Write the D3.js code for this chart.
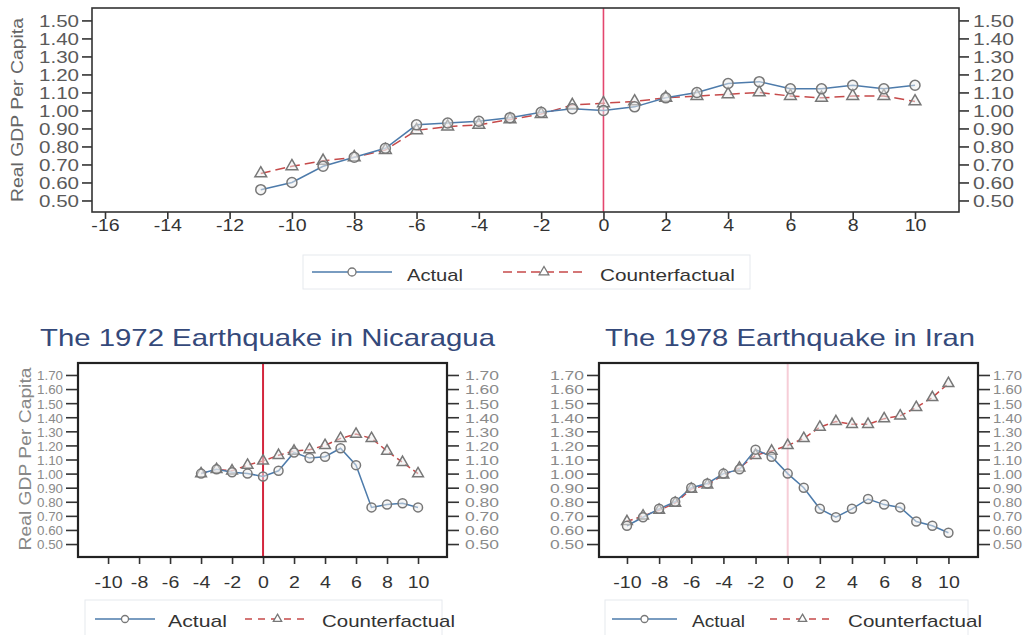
<!DOCTYPE html>
<html><head><meta charset="utf-8">
<script src="https://cdn.jsdelivr.net/npm/d3@7"></script>
<style>
body{margin:0;background:#fff;}
svg{display:block;font-family:"Liberation Sans",Arial,Helvetica,sans-serif;}
</style>
</head><body>
<svg id="c" width="1023" height="635"></svg>
<script>
// ---------- data ----------
const topYears = [-11,-10,-9,-8,-7,-6,-5,-4,-3,-2,-1,0,1,2,3,4,5,6,7,8,9,10];
const topActual = [0.56,0.60,0.69,0.74,0.79,0.92,0.93,0.94,0.96,0.99,1.01,1.00,1.02,1.07,1.10,1.15,1.16,1.12,1.12,1.14,1.12,1.14];
const topCounter = [0.65,0.69,0.72,0.74,0.78,0.89,0.91,0.92,0.95,0.98,1.03,1.04,1.05,1.07,1.08,1.09,1.10,1.08,1.07,1.08,1.08,1.05];

const nicYears = [-4,-3,-2,-1,0,1,2,3,4,5,6,7,8,9,10];
const nicActual = [1.00,1.03,1.01,1.00,0.98,1.02,1.15,1.11,1.12,1.18,1.06,0.76,0.78,0.79,0.76];
const nicCounter = [1.00,1.03,1.02,1.06,1.09,1.13,1.16,1.17,1.20,1.25,1.28,1.25,1.16,1.08,1.00];

const iranYears = [-10,-9,-8,-7,-6,-5,-4,-3,-2,-1,0,1,2,3,4,5,6,7,8,9,10];
const iranActual = [0.63,0.69,0.75,0.80,0.90,0.93,1.00,1.03,1.17,1.12,1.00,0.90,0.75,0.69,0.75,0.82,0.78,0.76,0.66,0.63,0.58];
const iranCounter = [0.66,0.70,0.74,0.79,0.89,0.92,0.99,1.04,1.13,1.16,1.20,1.25,1.33,1.37,1.35,1.35,1.39,1.41,1.47,1.54,1.64];

const topXTicks = [-16,-14,-12,-10,-8,-6,-4,-2,0,2,4,6,8,10];
const topYTicks = [0.5,0.6,0.7,0.8,0.9,1.0,1.1,1.2,1.3,1.4,1.5];
const botXTicks = [-10,-8,-6,-4,-2,0,2,4,6,8,10];
const botYTicks = [0.5,0.6,0.7,0.8,0.9,1.0,1.1,1.2,1.3,1.4,1.5,1.6,1.7];

const yTitle = "Real GDP Per Capita";
const titles = ["The 1972 Earthquake in Nicaragua", "The 1978 Earthquake in Iran"];
const legendLabels = ["Actual", "Counterfactual"];

// ---------- helpers ----------
const svg = d3.select("#c");
const BLUE = "#4d7bab", RED = "#c64a4a", MK = "#777";
const hyphenFmt = d => (d < 0 ? "-" + Math.abs(d) : String(d));

function stretch(sel, sx){
  sel.each(function(){
    const w = this.getComputedTextLength();
    d3.select(this).attr("textLength", w*sx).attr("lengthAdjust","spacingAndGlyphs");
  });
}
function fixLen(sel, len){
  sel.attr("textLength", len).attr("lengthAdjust","spacingAndGlyphs");
}

function panel(o){
  const g = svg.append("g");
  const x = d3.scaleLinear().domain(o.xDom).range([o.x0, o.x1]);
  const y = d3.scaleLinear().domain(o.yDom).range([o.y1, o.y0]);

  // x axis
  const xa = g.append("g").attr("transform",`translate(0,${o.y1})`)
    .call(d3.axisBottom(x).tickValues(o.xTicks).tickSize(o.xTickLen).tickFormat(hyphenFmt));
  xa.select(".domain").remove();
  xa.selectAll(".tick line").attr("stroke","#333").attr("stroke-width",1.6);
  xa.selectAll("text").attr("y", o.xLabBase - o.y1).attr("dy",0)
    .attr("font-size",17).attr("fill","#333").call(stretch,1.15);

  // y axes
  [["L", d3.axisLeft], ["R", d3.axisRight]].forEach(([side, ax])=>{
    const pos = side==="L" ? o.x0 : o.x1;
    const ya = g.append("g").attr("transform",`translate(${pos},0)`)
      .call(ax(y).tickValues(o.yTicks).tickSize(o.yTickLen).tickPadding(side==="L"?o.yPadL:o.yPadR).tickFormat(d3.format(".2f")));
    ya.select(".domain").remove();
    ya.selectAll(".tick line").attr("stroke","#333").attr("stroke-width",1.6);
    ya.selectAll("text").attr("font-size",o.yFont).attr("fill",o.yLabCol)
      .attr("dy","0.36em").call(fixLen, side==="L"?o.yLabWL:o.yLabWR);
  });

  // vertical event line
  g.append("line").attr("x1",x(0)).attr("x2",x(0)).attr("y1",o.y0).attr("y2",o.y1)
    .attr("stroke",o.vCol).attr("stroke-width",o.vW);

  const line = d3.line().x((d,i)=>x(o.years[i])).y(d=>y(d));
  g.append("path").datum(o.cf).attr("d",line).attr("fill","none")
    .attr("stroke",RED).attr("stroke-width",1.5).attr("stroke-dasharray",o.dash);
  g.append("path").datum(o.act).attr("d",line).attr("fill","none")
    .attr("stroke",BLUE).attr("stroke-width",1.5);

  const tri = d3.symbol(d3.symbolTriangle).size(o.triSize);
  g.selectAll(".tri").data(o.cf).join("path")
    .attr("transform",(d,i)=>`translate(${x(o.years[i])},${y(d)})`)
    .attr("d",tri).attr("fill","#eee").attr("fill-opacity",0.5).attr("stroke",MK).attr("stroke-width",1.5);
  g.selectAll(".cir").data(o.act).join("circle")
    .attr("cx",(d,i)=>x(o.years[i])).attr("cy",d=>y(d)).attr("r",o.r)
    .attr("fill","#eee").attr("fill-opacity",0.5).attr("stroke",MK).attr("stroke-width",1.5);

  // frame
  g.append("rect").attr("x",o.x0).attr("y",o.y0).attr("width",o.x1-o.x0).attr("height",o.y1-o.y0)
    .attr("fill","none").attr("stroke",o.frameCol).attr("stroke-width",o.frameW);
}

function legend(L){
  const g = svg.append("g");
  g.append("rect").attr("x",L.bx).attr("y",L.by).attr("width",L.bw).attr("height",L.bh)
    .attr("fill","#fff").attr("stroke","#e6e9ee").attr("stroke-width",1);
  g.append("line").attr("x1",L.a0).attr("x2",L.a1).attr("y1",L.ly).attr("y2",L.ly)
    .attr("stroke",BLUE).attr("stroke-width",1.5);
  g.append("circle").attr("cx",(L.a0+L.a1)/2).attr("cy",L.ly).attr("r",L.r)
    .attr("fill","#fff").attr("stroke",MK).attr("stroke-width",1.3);
  g.append("line").attr("x1",L.c0).attr("x2",L.c1).attr("y1",L.ly).attr("y2",L.ly)
    .attr("stroke",RED).attr("stroke-width",1.5).attr("stroke-dasharray",L.dash);
  g.append("path").attr("d",d3.symbol(d3.symbolTriangle).size(L.tri)())
    .attr("transform",`translate(${(L.c0+L.c1)/2},${L.ly})`)
    .attr("fill","#fff").attr("stroke",MK).attr("stroke-width",1.3);
  g.append("text").attr("x",L.at).attr("y",L.base).attr("font-size",17).attr("fill","#333")
    .text(legendLabels[0]).call(fixLen,L.aw);
  g.append("text").attr("x",L.ct).attr("y",L.base).attr("font-size",17).attr("fill","#333")
    .text(legendLabels[1]).call(fixLen,L.cw);
}

// ---------- top panel ----------
panel({
  x0:92, x1:959, y0:8, y1:212,
  xDom:[-16.417, 11.412], yDom:[0.436, 1.569],
  xTicks:topXTicks, yTicks:topYTicks, xTickLen:7, xLabBase:231,
  yTickLen:10, yPadL:3, yPadR:4, yFont:17, yLabCol:"#5a5a5a", yLabWL:40, yLabWR:41,
  vCol:"#e4466e", vW:1.6, dash:"10,5", triSize:60, r:5,
  years:topYears, act:topActual, cf:topCounter,
  frameCol:"#333", frameW:1.6
});
svg.append("text").attr("transform","translate(23,110) rotate(-90)")
  .attr("text-anchor","middle").attr("font-size",16).attr("fill","#666")
  .text(yTitle).call(fixLen,184);
legend({bx:303,by:255,bw:447,bh:34,ly:272,a0:312,a1:392,c0:503,c1:585,r:4,tri:40,
  dash:"9,5",at:407,aw:56,ct:600,cw:135,base:281});

// ---------- Nicaragua ----------
panel({
  x0:78, x1:447, y0:363, y1:557,
  xDom:[-11.94, 11.87], yDom:[0.408, 1.785],
  xTicks:botXTicks, yTicks:botYTicks, xTickLen:7, xLabBase:588,
  yTickLen:12, yPadL:3, yPadR:6, yFont:13.5, yLabCol:"#8a8a8a", yLabWL:26, yLabWR:34,
  vCol:"#d4263e", vW:2, dash:"6,4", triSize:50, r:4.5,
  years:nicYears, act:nicActual, cf:nicCounter,
  frameCol:"#222", frameW:2.2
});
svg.append("text").attr("transform","translate(31,459) rotate(-90)")
  .attr("text-anchor","middle").attr("font-size",16).attr("fill","#888")
  .text(yTitle).call(fixLen,183);
svg.append("text").attr("x",40).attr("y",346).attr("font-size",24).attr("fill","#34497a")
  .text(titles[0]).call(fixLen,455);
legend({bx:85,by:600,bw:357,bh:45,ly:619,a0:95,a1:155,c0:245,c1:310,r:3.5,tri:30,
  dash:"7,6",at:168,aw:59,ct:322,cw:133,base:627});

// ---------- Iran ----------
panel({
  x0:599, x1:978, y0:363, y1:557,
  xDom:[-11.74, 11.84], yDom:[0.408, 1.785],
  xTicks:botXTicks, yTicks:botYTicks, xTickLen:7, xLabBase:588,
  yTickLen:12, yPadL:3, yPadR:3, yFont:13.5, yLabCol:"#8a8a8a", yLabWL:34, yLabWR:29,
  vCol:"#f6cdd7", vW:2, dash:"6,4", triSize:50, r:4.5,
  years:iranYears, act:iranActual, cf:iranCounter,
  frameCol:"#222", frameW:2.2
});
svg.append("text").attr("x",605).attr("y",346).attr("font-size",24).attr("fill","#34497a")
  .text(titles[1]).call(fixLen,370);
legend({bx:605,by:600,bw:363,bh:45,ly:619,a0:612,a1:677,c0:770,c1:835,r:3.5,tri:30,
  dash:"7,6",at:692,aw:53,ct:848,cw:134,base:627});
</script>
</body></html>
